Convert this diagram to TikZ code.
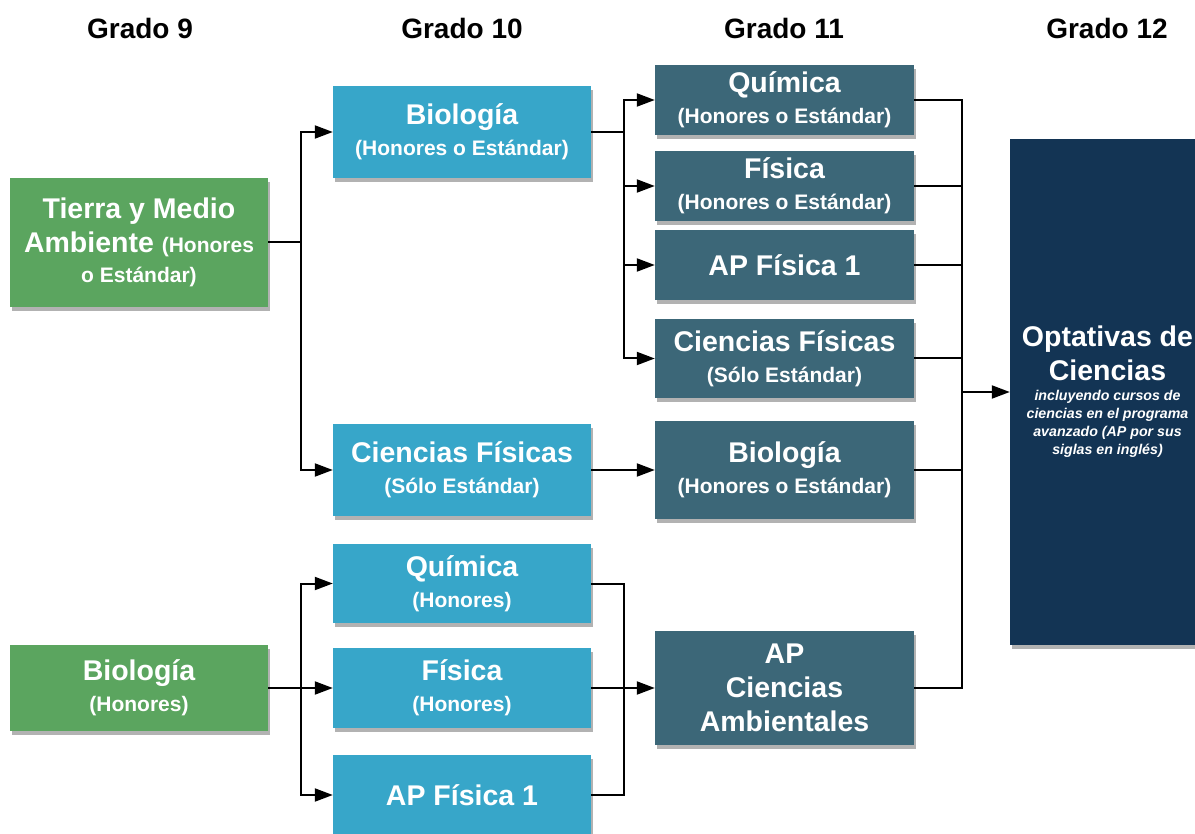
\documentclass[tikz,border=0pt]{standalone}
\usepackage{fontspec}
\setmainfont{Liberation Sans}
\usetikzlibrary{arrows.meta,shadows}
\definecolor{cgreen}{HTML}{5BA55F}
\definecolor{cblue}{HTML}{37A6C9}
\definecolor{cteal}{HTML}{3C6778}
\definecolor{cnavy}{HTML}{133454}
\newcommand\myttl{\fontsize{28.5}{34}\selectfont\bfseries}
\newcommand\mysub{\fontsize{21}{25}\selectfont\bfseries}
\newcommand\mysmall{\fontsize{14.2}{17}\selectfont\bfseries\itshape}
\tikzset{
  box/.style={rectangle, inner sep=0pt, minimum width=258pt, text=white, align=center, font=\myttl,
    drop shadow={shadow xshift=2pt, shadow yshift=-4pt, opacity=0.3, fill=black}},
  gbox/.style={box, fill=cgreen},
  bbox/.style={box, fill=cblue},
  tbox/.style={box, fill=cteal, minimum width=259pt},
  hdr/.style={font=\fontsize{28}{32}\selectfont\bfseries, text=black},
  conn/.style={line width=2pt},
  arr/.style={conn, -{Triangle[length=18pt,width=13pt]}}
}
\begin{document}
\begin{tikzpicture}[x=1pt,y=-1pt]
\useasboundingbox (0,0) rectangle (1195,834);
\clip (0,0) rectangle (1195,834);
% headers
\node[hdr] (h9) at (140,28) {Grado 9};
\node[hdr] (h10) at (462,28) {Grado 10};
\node[hdr] (h11) at (784,28) {Grado 11};
\node[hdr] (h12) at (1107,28) {Grado 12};
% grade 9
\node[gbox, minimum height=129pt] (g9a) at (139,242.5) {Tierra y Medio\\Ambiente {\mysub (Honores}\\[-4pt]{\mysub o Estándar)}};
\node[gbox, minimum height=86pt] (g9b) at (139,688) {Biología\\[-3pt]{\mysub (Honores)}};
% grade 10
\node[bbox, minimum height=92pt] (b10a) at (462,132) {Biología\\[-3pt]{\mysub (Honores o Estándar)}};
\node[bbox, minimum height=92pt] (b10b) at (462,470) {Ciencias Físicas\\[-3pt]{\mysub (Sólo Estándar)}};
\node[bbox, minimum height=79pt] (b10c) at (462,583.5) {Química\\[-3pt]{\mysub (Honores)}};
\node[bbox, minimum height=80pt] (b10d) at (462,688) {Física\\[-3pt]{\mysub (Honores)}};
\node[bbox, minimum height=80pt] (b10e) at (462,795) {AP Física 1};
% grade 11
\node[tbox, minimum height=70pt] (q11) at (784.5,100) {Química\\[-3pt]{\mysub (Honores o Estándar)}};
\node[tbox, minimum height=70pt] (f11) at (784.5,186) {Física\\[-3pt]{\mysub (Honores o Estándar)}};
\node[tbox, minimum height=70pt] (ap11) at (784.5,265) {AP Física 1};
\node[tbox, minimum height=79pt] (cf11) at (784.5,358.5) {Ciencias Físicas\\[-3pt]{\mysub (Sólo Estándar)}};
\node[tbox, minimum height=98pt] (bio11) at (784.5,470) {Biología\\[-3pt]{\mysub (Honores o Estándar)}};
\node[tbox, minimum height=114pt] (ac11) at (784.5,688) {AP\\Ciencias\\Ambientales};
% grade 12
\node[box, fill=cnavy, minimum width=195pt, minimum height=506pt] (opt) at (1107.5,392)
  {Optativas de\\Ciencias\\[-14pt]{\mysmall incluyendo cursos de}\\[-16pt]{\mysmall ciencias en el programa}\\[-16pt]{\mysmall avanzado (AP por sus}\\[-16pt]{\mysmall siglas en inglés)}};
% connectors grade 9 -> 10
\draw[conn] (g9a.east) -- ++(33,0) coordinate (ja);
\draw[arr] (ja) |- (b10a.west);
\draw[arr] (ja) |- (b10b.west);
\draw[conn] (g9b.east) -- ++(33,0) coordinate (jd);
\draw[arr] (jd) |- (b10c.west);
\draw[arr] (jd) -- (b10d.west);
\draw[arr] (jd) |- (b10e.west);
% grade 10 -> 11
\draw[conn] (b10a.east) -- ++(33,0) coordinate (jb);
\draw[arr] (jb) |- (q11.west);
\draw[arr] (jb) |- (f11.west);
\draw[arr] (jb) |- (ap11.west);
\draw[arr] (jb) |- (cf11.west);
\draw[arr] (b10b.east) -- (bio11.west);
\draw[conn] (b10c.east) -- ++(33,0) coordinate (jc) -- (jc |- b10e.east) -- (b10e.east);
\draw[arr] (b10d.east) -- (ac11.west);
% grade 11 -> 12
\draw[conn] (q11.east) -- ++(48,0) coordinate (r1);
\draw[conn] (f11.east) -- ++(48,0);
\draw[conn] (ap11.east) -- ++(48,0);
\draw[conn] (cf11.east) -- ++(48,0);
\draw[conn] (bio11.east) -- ++(48,0);
\draw[conn] (ac11.east) -- ++(48,0) coordinate (r6);
\draw[conn, line cap=rect] (r1) -- (r6);
\draw[arr] (r1 |- opt.west) -- (opt.west);
\end{tikzpicture}
\end{document}
